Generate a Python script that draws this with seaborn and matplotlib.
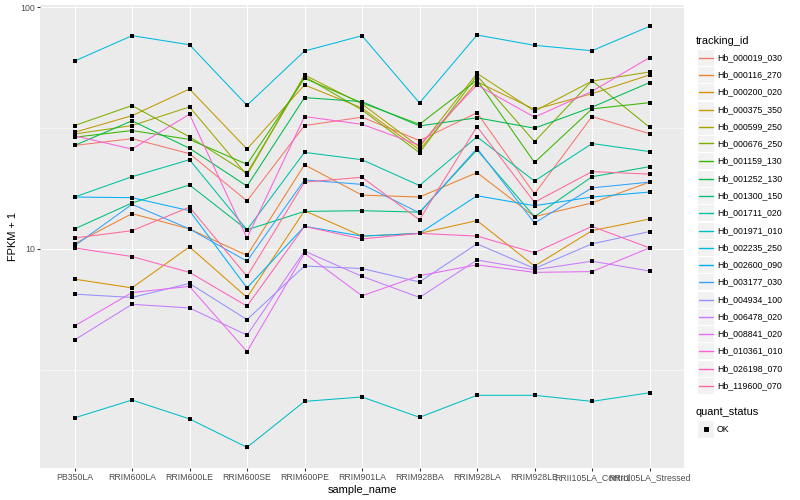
import numpy as np
import pandas as pd
import matplotlib
matplotlib.use("Agg")
import matplotlib.pyplot as plt
import seaborn as sns
from matplotlib.lines import Line2D
from matplotlib.patches import Rectangle
from matplotlib.ticker import FixedLocator, NullFormatter, FixedFormatter

# ---------------- data ----------------
samples = ["PB350LA", "RRIM600LA", "RRIM600LE", "RRIM600SE", "RRIM600PE",
           "RRIM901LA", "RRIM928BA", "RRIM928LA", "RRIM928LE",
           "RRII105LA_Control", "RRII105LA_Stressed"]

tracking_ids = ["Hb_000019_030", "Hb_000116_270", "Hb_000200_020", "Hb_000375_350",
                "Hb_000599_250", "Hb_000676_250", "Hb_001159_130", "Hb_001252_130",
                "Hb_001300_150", "Hb_001711_020", "Hb_001971_010", "Hb_002235_250",
                "Hb_002600_090", "Hb_003177_030", "Hb_004934_100", "Hb_006478_020",
                "Hb_008841_020", "Hb_010361_010", "Hb_026198_070", "Hb_119600_070"]

Hb_000019_030 = [26.8, 28.6, 24.8, 15.8, 32.4, 35.1, 28.1, 36.6, 16.9, 35.3, 30.0]
Hb_000116_270 = [10.5, 14.0, 12.1, 9.4, 22.3, 16.7, 16.4, 20.7, 13.6, 15.5, 18.9]
Hb_000200_020 = [7.5, 6.9, 10.2, 6.3, 14.4, 11.3, 11.6, 13.1, 8.5, 11.9, 13.3]
Hb_000375_350 = [30.4, 35.6, 45.9, 25.9, 47.7, 38.3, 25.7, 49.2, 37.8, 43.9, 52.5]
Hb_000599_250 = [29.9, 32.4, 38.7, 20.2, 52.5, 39.8, 26.4, 53.3, 37.2, 49.5, 54.0]
Hb_000676_250 = [32.4, 39.2, 29.1, 20.6, 51.7, 37.6, 25.0, 52.1, 27.8, 49.7, 31.9]
Hb_001159_130 = [29.0, 30.9, 28.4, 22.4, 50.8, 40.2, 32.8, 50.0, 22.8, 38.0, 40.3]
Hb_001252_130 = [26.8, 33.9, 26.1, 18.2, 42.3, 40.7, 32.3, 34.9, 31.6, 38.6, 48.8]
Hb_001300_150 = [12.1, 15.5, 18.4, 12.0, 14.3, 14.4, 14.2, 25.7, 13.6, 19.9, 21.9]
Hb_001711_020 = [16.4, 19.9, 23.4, 12.0, 25.1, 23.4, 18.3, 29.1, 19.1, 27.3, 25.3]
Hb_001971_010 = [2.00, 2.37, 1.98, 1.51, 2.34, 2.44, 2.01, 2.48, 2.48, 2.34, 2.54]
Hb_002235_250 = [59.9, 76.3, 70.0, 39.3, 65.9, 76.3, 40.2, 76.8, 69.6, 66.1, 83.4]
Hb_002600_090 = [16.4, 16.3, 14.4, 6.9, 12.4, 11.3, 11.6, 16.6, 15.1, 16.4, 17.2]
Hb_003177_030 = [10.3, 15.3, 12.1, 8.9, 19.3, 18.5, 14.1, 26.1, 12.8, 17.9, 18.9]
Hb_004934_100 = [6.5, 6.3, 7.2, 5.1, 8.5, 8.3, 7.3, 10.5, 8.3, 10.5, 11.8]
Hb_006478_020 = [4.2, 5.9, 5.7, 4.4, 9.8, 7.7, 6.3, 9.0, 8.2, 8.9, 8.1]
Hb_008841_020 = [4.8, 6.6, 7.0, 3.76, 9.6, 6.4, 7.75, 8.6, 8.0, 8.06, 10.1]
Hb_010361_010 = [29.4, 25.9, 36.1, 11.1, 35.3, 32.8, 26.9, 47.7, 35.1, 44.9, 61.9]
Hb_026198_070 = [10.1, 9.3, 8.0, 5.8, 12.4, 11.0, 11.6, 11.3, 9.65, 12.4, 10.1]
Hb_119600_070 = [11.1, 11.9, 14.9, 7.7, 18.9, 19.8, 13.2, 32.1, 15.6, 20.9, 20.4]

series = [Hb_000019_030, Hb_000116_270, Hb_000200_020, Hb_000375_350, Hb_000599_250,
          Hb_000676_250, Hb_001159_130, Hb_001252_130, Hb_001300_150, Hb_001711_020,
          Hb_001971_010, Hb_002235_250, Hb_002600_090, Hb_003177_030, Hb_004934_100,
          Hb_006478_020, Hb_008841_020, Hb_010361_010, Hb_026198_070, Hb_119600_070]

rows = []
for tid, vals in zip(tracking_ids, series):
    for s, v in zip(samples, vals):
        rows.append({"tracking_id": tid, "sample_name": s, "fpkm": v, "quant_status": "OK"})
df = pd.DataFrame(rows)

# ---------------- ggplot-like hue palette ----------------
def hcl_hex(h, c=100.0, l=65.0):
    hr = np.deg2rad(h)
    U, V = c * np.cos(hr), c * np.sin(hr)
    Xn, Yn, Zn = 95.047, 100.0, 108.883
    Y = Yn * ((l + 16) / 116) ** 3
    den = Xn + 15 * Yn + 3 * Zn
    un, vn = 4 * Xn / den, 9 * Yn / den
    u = U / (13 * l) + un
    v = V / (13 * l) + vn
    X = 9.0 * Y * u / (4 * v)
    Z = -X / 3 - 5 * Y + 3 * Y / v
    M = np.array([[3.240479, -1.537150, -0.498535],
                  [-0.969256, 1.875992, 0.041556],
                  [0.055648, -0.204043, 1.057311]])
    lin = M @ (np.array([X, Y, Z]) / 100.0)
    out = np.where(lin <= 0.0031308, 12.92 * lin,
                   1.055 * np.power(np.clip(lin, 0, None), 1 / 2.4) - 0.055)
    out = np.clip(out, 0, 1)
    return matplotlib.colors.to_hex(out)

n = len(tracking_ids)
hues = np.linspace(15, 375 - 360 / n, n)
colors = [hcl_hex(h) for h in hues]

# ---------------- style ----------------
sns.set_theme(style="darkgrid")
plt.rcParams["font.family"] = ["Liberation Sans", "DejaVu Sans"]

W, H = 800, 500
fig = plt.figure(figsize=(W / 72, H / 72), dpi=72)
fig.patch.set_facecolor("white")

pl, pr, pt, pb = 40, 684, 5.3, 468.4
ax = fig.add_axes([pl / W, 1 - pb / H, (pr - pl) / W, (pb - pt) / H])
ax.set_facecolor("#EBEBEB")

sns.lineplot(data=df, x="sample_name", y="fpkm", hue="tracking_id", hue_order=tracking_ids,
             palette=colors, sort=False, estimator=None, legend=False, linewidth=1.05, ax=ax)
sns.scatterplot(data=df, x="sample_name", y="fpkm", color="black", marker="s", s=16,
                linewidth=0, legend=False, ax=ax, zorder=5)

ax.set_yscale("log")
lo, hi = np.log10(df["fpkm"].min()), np.log10(df["fpkm"].max())
pad = 0.05 * (hi - lo)
ax.set_ylim(10 ** (lo - pad), 10 ** (hi + pad))
ax.set_xlim(-0.6, len(samples) - 1 + 0.6)

ax.yaxis.set_major_locator(FixedLocator([10, 100]))
ax.yaxis.set_major_formatter(FixedFormatter(["10", "100"]))
ax.yaxis.set_minor_locator(FixedLocator([10 ** 0.5, 10 ** 1.5]))
ax.yaxis.set_minor_formatter(NullFormatter())

ax.grid(which="major", color="white", linewidth=1.07)
ax.grid(which="minor", axis="y", color="white", linewidth=0.53)
ax.set_axisbelow(True)
for sp in ax.spines.values():
    sp.set_visible(False)

ax.tick_params(axis="both", which="major", length=2.75, width=1.07, color="#333333",
               labelsize=8.8, labelcolor="#4D4D4D", pad=2.2)
ax.tick_params(axis="both", which="minor", length=0)
ax.tick_params(axis="x", bottom=True)
ax.tick_params(axis="y", left=True)

ax.set_xlabel("sample_name", fontsize=11, color="black", labelpad=3)
ax.set_ylabel("FPKM + 1", fontsize=11, color="black", labelpad=2.5)

# ---------------- legend (ggplot-like) ----------------
def fx(x):
    return x / W

def fy(y):
    return 1 - y / H

key = 17.28
kx0 = 697
fig.text(fx(696), fy(40.7), "tracking_id", fontsize=11, ha="left", va="center", color="black")
y0 = 56.7
for i, (tid, col) in enumerate(zip(tracking_ids, colors)):
    yc = round(y0 + i * key) + 0.5
    fig.add_artist(Rectangle((fx(kx0), fy(yc + key / 2)), key / W, key / H,
                             transform=fig.transFigure, facecolor="#F2F2F2",
                             edgecolor="white", linewidth=1, zorder=1))
    ln = Line2D([fx(kx0 + 1.7), fx(kx0 + key - 1.7)], [fy(yc), fy(yc)],
                transform=fig.transFigure, color=col, linewidth=1.4, zorder=3)
    ln.set_snap(True)
    fig.add_artist(ln)
    fig.text(fx(717), fy(yc), tid, fontsize=8.8, ha="left", va="center", color="black")

fig.text(fx(696), fy(412.3), "quant_status", fontsize=11, ha="left", va="center", color="black")
yc = 429
fig.add_artist(Rectangle((fx(kx0), fy(yc + key / 2)), key / W, key / H,
                         transform=fig.transFigure, facecolor="#F2F2F2",
                         edgecolor="white", linewidth=1, zorder=1))
fig.add_artist(Line2D([fx(kx0 + key / 2)], [fy(yc)], transform=fig.transFigure,
                      marker="s", markersize=3.8, color="black", linestyle="none", zorder=3))
fig.text(fx(717), fy(yc), "OK", fontsize=8.8, ha="left", va="center", color="black")

fig.savefig("out.png", dpi=72, facecolor="white")
